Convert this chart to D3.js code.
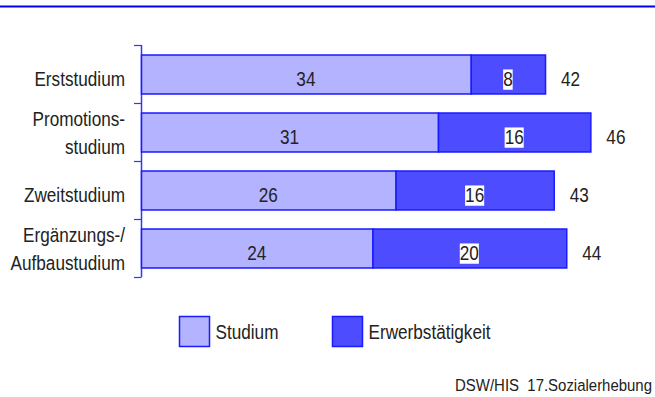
<!DOCTYPE html>
<html>
<head>
	<meta charset="utf-8">
	<title>Studium und Erwerbstätigkeit</title>
	<script src="https://cdn.jsdelivr.net/npm/d3@7/dist/d3.min.js"></script>
	<style>
		body { margin: 0; background: #fff; }
		svg text { font-family: "Liberation Sans", Arial, sans-serif; fill: #222; }
	</style>
</head>
<body>
	<svg id="chart" width="655" height="397"></svg>

	<script>
		// data
		var categories = [['Erststudium'], ['Promotions-', 'studium'], ['Zweitstudium'], ['Ergänzungs-/', 'Aufbaustudium']];
		var studium = [34.2, 30.8, 26.4, 24.0];
		var erwerb = [7.7, 15.8, 16.4, 20.1];
		var studiumLabels = ['34', '31', '26', '24'];
		var erwerbLabels = ['8', '16', '16', '20'];
		var totalLabels = ['42', '46', '43', '44'];
		var seriesNames = ['Studium', 'Erwerbstätigkeit'];
		var source = 'DSW/HIS\u00a0\u00a017.Sozialerhebung';

		var lightFill = '#b3b3ff', darkFill = '#4d4dff', edge = '#1a1aff';
		var narrow = 0.88;  // squeeze the sans to look condensed

		var svg = d3.select('#chart');

		// places a condensed text group at (x, y)
		function label(parent, x, y, size, anchor) {
			var g = parent.append('g')
				.attr('transform', 'translate(' + x + ',' + y + ') scale(' + narrow + ',1)');
			var t = g.append('text')
				.attr('text-anchor', anchor || 'start')
				.style('font-size', size + 'px');
			return t;
		}

		// top rule
		svg.append('line')
			.attr('x1', 0).attr('x2', 655)
			.attr('y1', 6.5).attr('y2', 6.5)
			.attr('stroke', '#0000ee').attr('stroke-width', 2);

		var idx = d3.range(categories.length);

		var x = d3.scaleLinear().domain([0, 42]).range([141, 546]);
		var y = d3.scaleBand().domain(idx).range([45, 277])
			.paddingInner(0.328).paddingOuter(0.164);

		// axis line with ticks at category boundaries
		svg.append('line')
			.attr('x1', 141.5).attr('x2', 141.5)
			.attr('y1', 45).attr('y2', 277)
			.attr('stroke', '#3333ff').attr('stroke-width', 1.5);

		var bounds = d3.range(categories.length + 1).map(i => y.range()[0] + i * y.step());
		svg.selectAll('.tick').data(bounds).enter().append('line')
			.attr('x1', 134).attr('x2', 141.5)
			.attr('y1', d => d + 0.5).attr('y2', d => d + 0.5)
			.attr('stroke', '#3333ff').attr('stroke-width', 1.2);

		// category labels
		idx.forEach(function (i) {
			var lines = categories[i];
			var cy = y(i) + y.bandwidth() / 2;
			var t = label(svg, 125, cy, 19.5, 'end');
			lines.forEach(function (l, k) {
				var off = lines.length === 1 ? 12 : 8 + (k - (lines.length - 1) / 2) * 28;
				t.append('tspan').attr('x', 0).attr('y', off).text(l);
			});
		});

		// bars
		var row = svg.selectAll('.row').data(idx).enter().append('g');

		row.append('rect')
			.attr('x', x(0) + 0.5)
			.attr('y', i => y(i) + 0.5)
			.attr('width', i => x(studium[i]) - x(0))
			.attr('height', y.bandwidth())
			.attr('fill', lightFill).attr('stroke', edge).attr('stroke-width', 1.5);

		row.append('rect')
			.attr('x', i => x(studium[i]) + 0.5)
			.attr('y', i => y(i) + 0.5)
			.attr('width', i => x(studium[i] + erwerb[i]) - x(studium[i]))
			.attr('height', y.bandwidth())
			.attr('fill', darkFill).attr('stroke', edge).attr('stroke-width', 1.5);

		idx.forEach(function (i) {
			var cy = y(i) + y.bandwidth() / 2 + 12;

			label(svg, (x(0) + x(studium[i])) / 2, cy, 19.5, 'middle').text(studiumLabels[i]);

			// dark segment label sits on a white box
			var t = label(svg, (x(studium[i]) + x(studium[i] + erwerb[i])) / 2, cy, 19.5, 'middle')
				.text(erwerbLabels[i]);
			var b = t.node().getBBox();
			d3.select(t.node().parentNode).insert('rect', 'text')
				.attr('x', b.x).attr('y', b.y + 1.5)
				.attr('width', b.width).attr('height', b.height - 2)
				.attr('fill', '#fff');

			label(svg, x(studium[i] + erwerb[i]) + 16, cy, 19.5).text(totalLabels[i]);
		});

		// legend
		var legend = svg.selectAll('.legend').data(seriesNames).enter().append('g')
			.attr('transform', (d, i) => 'translate(' + (179.5 + i * 153) + ',316.5)');
		legend.append('rect')
			.attr('width', 30).attr('height', 30)
			.attr('fill', (d, i) => i ? darkFill : lightFill)
			.attr('stroke', edge).attr('stroke-width', 1.5);
		legend.each(function (d) {
			label(d3.select(this), 36, 22, 19.5).text(d);
		});

		// source note
		label(svg, 652, 391, 17, 'end').text(source);
	</script>
</body>
</html>
